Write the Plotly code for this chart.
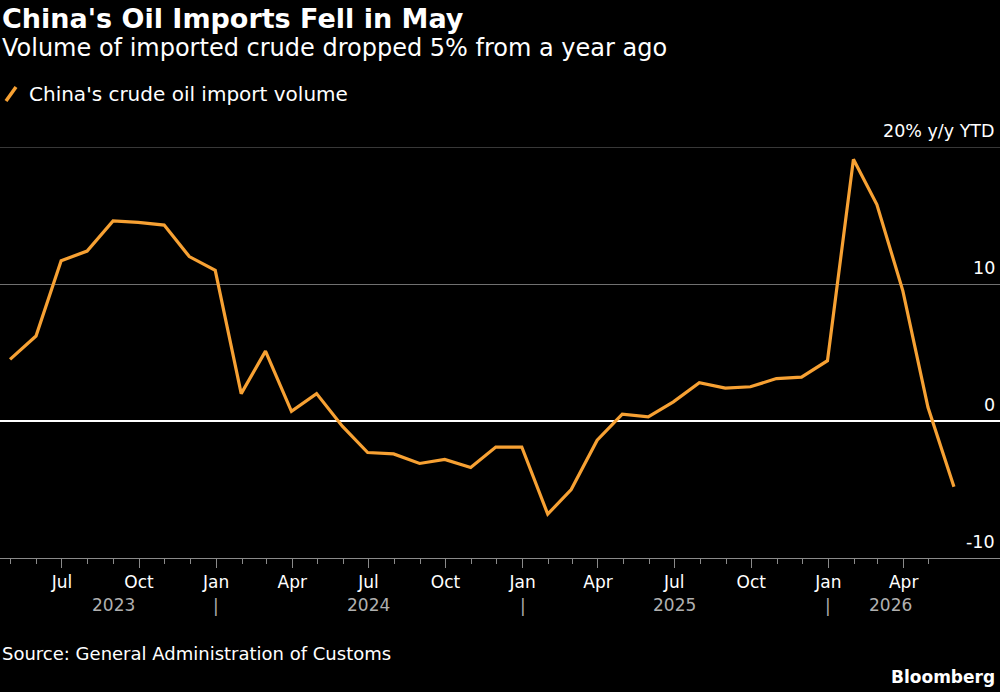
import plotly.graph_objects as go
import pandas as pd

# ---- data ----
months = ["2023-04", "2023-05", "2023-06", "2023-07", "2023-08", "2023-09", "2023-10", "2023-11", "2023-12",
          "2024-01", "2024-02", "2024-03", "2024-04", "2024-05", "2024-06", "2024-07", "2024-08", "2024-09",
          "2024-10", "2024-11", "2024-12",
          "2025-01", "2025-02", "2025-03", "2025-04", "2025-05", "2025-06", "2025-07", "2025-08", "2025-09",
          "2025-10", "2025-11", "2025-12",
          "2026-01", "2026-02", "2026-03", "2026-04", "2026-05"]
import_yoy = [4.5, 6.2, 11.7, 12.4, 14.6, 14.5, 14.3, 12.0, 11.0,
              2.0, 5.1, 0.7, 2.0, -0.4, -2.3, -2.4, -3.1, -2.8, -3.4, -1.9, -1.9,
              -6.8, -5.0, -1.4, 0.5, 0.3, 1.4, 2.8, 2.4, 2.5, 3.1, 3.2, 4.4,
              19.1, 15.8, 9.5, 1.0, -4.8]
series_name = "China's crude oil import volume"
y_ticks = [20, 10, 0, -10]
y_tick_text = ["20% y/y YTD", "10", "0", "-10"]
x_tick_dates = ["2023-07-01", "2023-10-01", "2024-01-01", "2024-04-01", "2024-07-01", "2024-10-01",
                "2025-01-01", "2025-04-01", "2025-07-01", "2025-10-01", "2026-01-01", "2026-04-01"]
x_tick_text = ["Jul", "Oct", "Jan", "Apr", "Jul", "Oct", "Jan", "Apr", "Jul", "Oct", "Jan", "Apr"]
year_labels = ["2023", "2024", "2025", "2026"]
year_centers = ["2023-09-01", "2024-07-01", "2025-07-01", "2026-03-16"]
year_breaks = ["2024-01-01", "2025-01-01", "2026-01-01"]
title = "China's Oil Imports Fell in May"
subtitle = "Volume of imported crude dropped 5% from a year ago"
source = "Source: General Administration of Customs"

x_dates = [pd.Period(m, freq="M").end_time.normalize() for m in months]
minor_ticks = [pd.Period(m, freq="M").start_time for m in months[1:]]

ORANGE = "#F7A133"
FONT = "DejaVu Sans"
GRID = "#707070"
W, H = 1000, 692
TOP, BOTTOM = 147, 558


def py(pixel_y):
    return (BOTTOM - pixel_y) / (BOTTOM - TOP)


fig = go.Figure()
fig.add_trace(go.Scatter(x=x_dates, y=import_yoy, mode="lines", name=series_name,
                         line=dict(color=ORANGE, width=3.2), showlegend=False))

fig.update_layout(
    width=W, height=H,
    paper_bgcolor="black", plot_bgcolor="black",
    margin=dict(l=0, r=0, t=TOP, b=H - BOTTOM, pad=0),
    font=dict(family=FONT, color="white", size=17),
    xaxis=dict(
        type="date",
        range=["2023-04-18", "2026-07-25"],
        tickmode="array", tickvals=x_tick_dates, ticktext=x_tick_text,
        ticks="outside", ticklen=9, tickcolor="#8a8a8a", tickwidth=1,
        tickfont=dict(family=FONT, size=17, color="white"),
        showline=True, linecolor="#8a8a8a", linewidth=1,
        showgrid=False, zeroline=False,
        minor=dict(tickmode="array", tickvals=minor_ticks, ticks="outside",
                   ticklen=5, tickcolor="#8a8a8a", tickwidth=1, showgrid=False),
    ),
    yaxis=dict(
        range=[-10, 20],
        tickmode="array", tickvals=y_ticks,
        showticklabels=False,
        showgrid=True, gridcolor=GRID, gridwidth=1,
        zeroline=True, zerolinecolor="white", zerolinewidth=2,
        fixedrange=True,
    ),
)

ann = []
# title & subtitle
ann.append(dict(text=f"<b>{title}</b>", x=0, y=py(18), xref="paper", yref="paper",
                xanchor="left", yanchor="middle", showarrow=False,
                font=dict(family=FONT, size=27, color="white")))
ann.append(dict(text=subtitle, x=0, y=py(48), xref="paper", yref="paper",
                xanchor="left", yanchor="middle", showarrow=False,
                font=dict(family=FONT, size=24, color="white")))
# legend text
ann.append(dict(text=series_name, x=0.027, y=py(94), xref="paper", yref="paper",
                xanchor="left", yanchor="middle", showarrow=False,
                font=dict(family=FONT, size=20, color="white")))
# y tick labels above gridlines
for v, t in zip(y_ticks, y_tick_text):
    ann.append(dict(text=t, x=0.997, y=v, xref="paper", yref="y",
                    xanchor="right", yanchor="bottom", yshift=4, showarrow=False,
                    font=dict(family=FONT, size=17.5, color="white")))
# year labels
for d, t in zip(year_centers, year_labels):
    ann.append(dict(text=t, x=d, y=py(605), xref="x", yref="paper",
                    xanchor="center", yanchor="middle", showarrow=False,
                    font=dict(family=FONT, size=17, color="#b0b0b0")))
for d in year_breaks:
    ann.append(dict(text="|", x=d, y=py(606), xref="x", yref="paper",
                    xanchor="center", yanchor="middle", showarrow=False,
                    font=dict(family=FONT, size=17, color="#b0b0b0")))
# source and brand
ann.append(dict(text=source, x=0, y=py(653), xref="paper", yref="paper",
                xanchor="left", yanchor="middle", showarrow=False,
                font=dict(family=FONT, size=18, color="white")))
ann.append(dict(text="<b>Bloomberg</b>", x=0.997, y=py(677), xref="paper", yref="paper",
                xanchor="right", yanchor="middle", showarrow=False,
                font=dict(family=FONT, size=17, color="white")))
fig.update_layout(annotations=ann)

# top gridline (at the edge of the range)
fig.add_shape(type="line", xref="paper", yref="y", x0=0, x1=1, y0=20, y1=20,
              line=dict(color=GRID, width=1), layer="below")
# legend slash icon
fig.add_shape(type="line", xref="paper", yref="paper",
              x0=0.006, y0=py(101), x1=0.016, y1=py(87),
              line=dict(color=ORANGE, width=3.5))

fig.write_html("out.html")
